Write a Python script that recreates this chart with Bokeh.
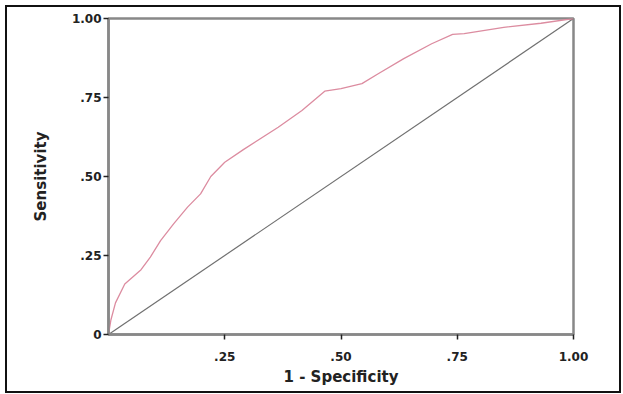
from bokeh.plotting import figure
from bokeh.models import FixedTicker, Range1d
from bokeh.embed import file_html
from bokeh.resources import INLINE

# ROC curve (1 - specificity, sensitivity)
fpr = [0, 0.005, 0.015, 0.035, 0.07, 0.09, 0.112, 0.14, 0.17, 0.198, 0.22,
       0.25, 0.29, 0.365, 0.416, 0.465, 0.50, 0.545, 0.58, 0.635, 0.695,
       0.74, 0.765, 0.85, 0.93, 1.0]
tpr = [0, 0.045, 0.10, 0.16, 0.205, 0.245, 0.297, 0.35, 0.403, 0.445, 0.50,
       0.545, 0.585, 0.656, 0.709, 0.770, 0.778, 0.794, 0.825, 0.873, 0.92,
       0.95, 0.952, 0.972, 0.985, 1.0]
# reference diagonal
ref_x = [0, 1]
ref_y = [0, 1]

x_ticks = [0.25, 0.5, 0.75, 1.0]
x_tick_labels = [".25", ".50", ".75", "1.00"]
y_ticks = [0, 0.25, 0.5, 0.75, 1.0]
y_tick_labels = ["0", ".25", ".50", ".75", "1.00"]

p = figure(width=612, height=384, output_backend="svg", toolbar_location=None,
           x_range=Range1d(0, 1), y_range=Range1d(0, 1),
           min_border_left=101, min_border_right=46,
           min_border_top=11, min_border_bottom=57,
           margin=(7, 0, 0, 7))

p.styles = {"outline": "2px solid #111111", "outline-offset": "0px"}
p.background_fill_color = "white"
p.border_fill_color = "white"
p.xgrid.visible = False
p.ygrid.visible = False
p.outline_line_color = "#888888"
p.outline_line_width = 2.5
p.outline_line_alpha = 1.0

p.line(ref_x, ref_y, color="#707070", line_width=1.2)
p.line(fpr, tpr, color="#dc8ca0", line_width=1.3)

for ax in (p.xaxis[0], p.yaxis[0]):
    ax.axis_line_color = "#888888"
    ax.axis_line_width = 2.5
    ax.major_tick_line_color = "#222222"
    ax.major_tick_line_width = 1.5
    ax.major_tick_in = 0
    ax.major_tick_out = 5
    ax.minor_tick_line_color = None
    ax.major_label_text_font = "DejaVu Sans"
    ax.major_label_text_font_style = "bold"
    ax.major_label_text_font_size = "12px"
    ax.major_label_text_color = "#222222"
    ax.axis_label_text_font = "DejaVu Sans"
    ax.axis_label_text_font_style = "bold"
    ax.axis_label_text_font_size = "15px"
    ax.axis_label_text_color = "#222222"

p.xaxis.ticker = FixedTicker(ticks=x_ticks)
p.xaxis.major_label_overrides = dict(zip(x_ticks, x_tick_labels))
p.yaxis.ticker = FixedTicker(ticks=y_ticks)
p.yaxis.major_label_overrides = dict(zip(y_ticks, y_tick_labels))

p.xaxis.axis_label = "1 - Specificity"
p.yaxis.axis_label = "Sensitivity"
p.xaxis.major_label_standoff = 12
p.xaxis.axis_label_standoff = 4
p.yaxis.major_label_standoff = 2
p.yaxis.axis_label_standoff = 19

open("out.html", "w").write(file_html(p, INLINE))
